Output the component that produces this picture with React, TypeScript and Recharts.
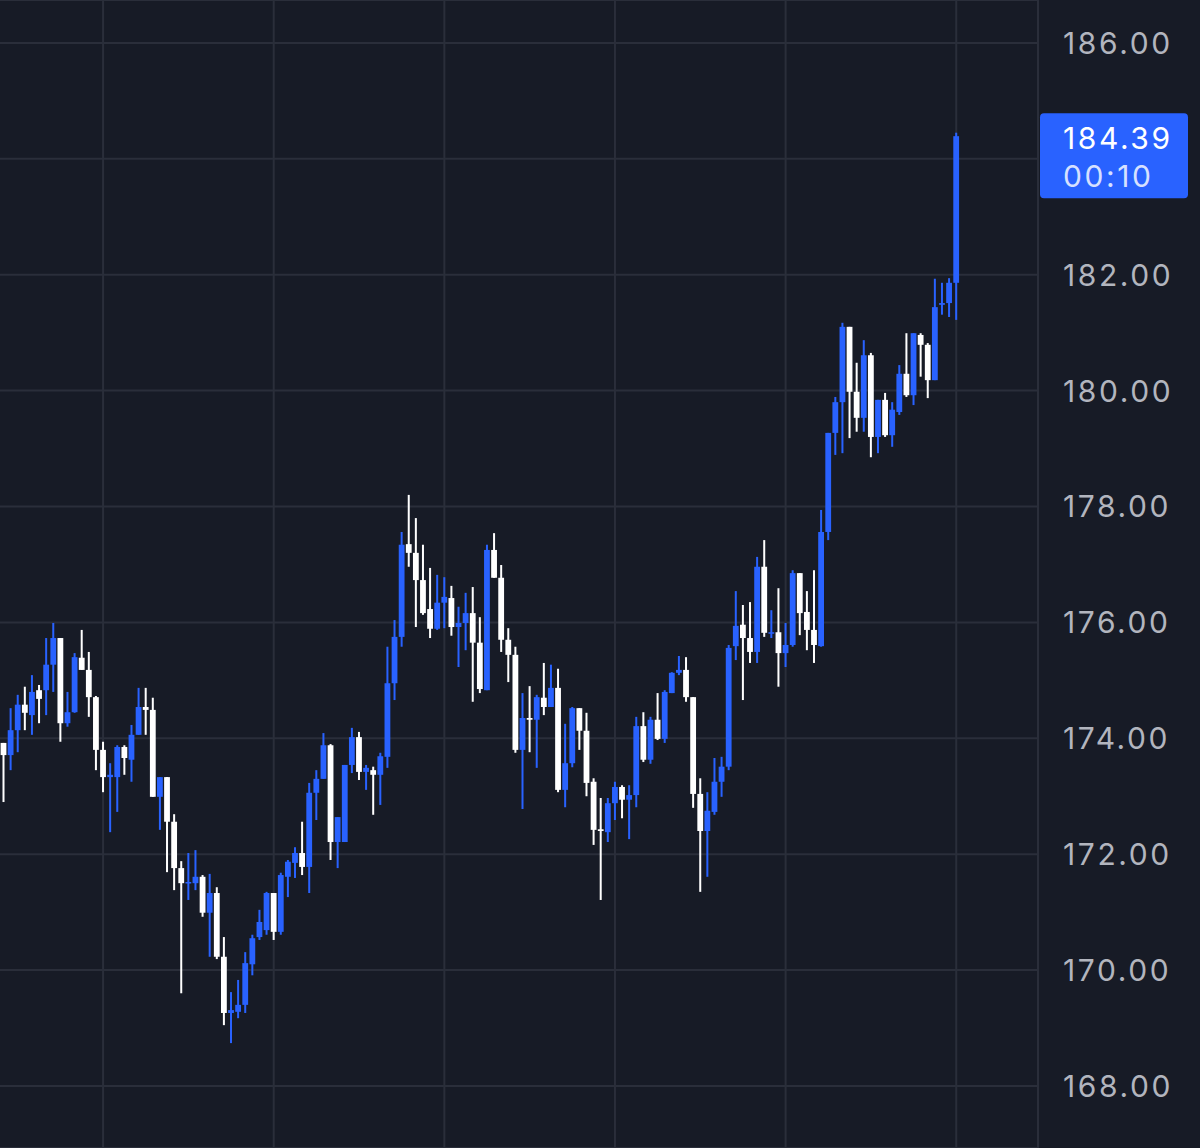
import React from "react";
import { ComposedChart, Bar, XAxis, YAxis, CartesianGrid, ReferenceLine } from "recharts";

const UP = "#2962ff";
const DOWN = "#ffffff";
const BG = "#171b26";
const GRID = "#2a2e3a";

const open = [
  173.92, 173.71, 174.14, 174.58, 174.40, 174.83, 174.83, 175.27, 175.73, 174.26,
  174.45, 175.39, 175.18, 174.71, 173.80, 173.33, 173.33, 173.85, 173.63, 174.06,
  174.54, 174.49, 172.99, 173.33, 172.56, 171.76, 171.50, 171.50, 171.61, 170.99,
  171.33, 170.23, 169.26, 169.28, 169.40, 170.10, 170.57, 170.69, 171.33, 170.66,
  171.61, 171.85, 172.02, 171.78, 173.06, 173.30, 173.88, 172.21, 172.21, 173.54,
  174.02, 173.42, 173.45, 173.37, 173.68, 174.95, 175.75, 177.35, 177.20, 176.73,
  176.23, 175.89, 176.34, 176.42, 175.92, 175.99, 176.16, 175.65, 174.83, 177.25,
  176.77, 175.70, 175.44, 173.80, 174.35, 174.32, 174.70, 174.54, 174.87, 173.11,
  173.57, 174.52, 174.13, 173.25, 172.43, 172.38, 172.88, 173.16, 172.94, 173.02,
  174.21, 173.63, 174.32, 173.99, 174.78, 175.13, 175.18, 174.71, 173.04, 172.40,
  172.73, 173.25, 173.51, 175.59, 175.96, 175.73, 175.49, 176.96, 175.82, 175.83,
  175.47, 175.61, 176.85, 176.18, 175.87, 175.59, 177.56, 179.27, 179.80, 181.10,
  179.98, 179.53, 180.61, 179.20, 179.84, 179.23, 179.63, 180.29, 179.92, 180.96,
  180.79, 180.18, 181.48, 181.51, 181.86,
];

const high = [
  173.92, 174.52, 174.75, 174.89, 175.09, 174.92, 175.73, 175.99, 175.73, 174.80,
  175.47, 175.87, 175.49, 174.73, 173.94, 173.57, 173.88, 173.88, 174.23, 174.87,
  174.87, 174.70, 173.33, 173.33, 172.69, 171.88, 172.02, 172.07, 171.64, 171.66,
  171.43, 170.57, 169.62, 169.83, 170.31, 170.61, 171.04, 171.35, 171.33, 171.68,
  171.90, 172.12, 172.56, 173.23, 173.45, 174.09, 173.90, 172.64, 173.54, 174.18,
  174.11, 173.54, 173.51, 173.75, 175.58, 176.04, 177.56, 178.20, 177.80, 177.34,
  176.94, 176.82, 176.78, 176.63, 176.27, 176.51, 176.61, 176.09, 177.34, 177.54,
  176.99, 175.90, 175.58, 174.78, 174.90, 174.75, 175.30, 175.27, 175.20, 174.25,
  174.54, 174.52, 174.44, 173.31, 172.97, 172.97, 173.25, 173.19, 173.19, 174.37,
  174.45, 174.37, 174.78, 174.83, 175.14, 175.42, 175.40, 174.71, 173.31, 173.07,
  173.66, 173.68, 175.61, 176.54, 176.30, 176.35, 177.13, 177.42, 176.21, 176.59,
  175.99, 176.90, 176.85, 176.54, 176.90, 177.94, 179.27, 179.89, 181.17, 181.10,
  180.48, 180.87, 180.65, 179.84, 179.96, 179.80, 180.44, 180.99, 180.99, 180.99,
  180.82, 181.93, 181.86, 181.94, 184.45,
];

const low = [
  172.90, 173.45, 173.76, 174.14, 174.06, 174.26, 174.40, 174.80, 173.94, 174.20,
  174.44, 175.18, 174.37, 173.45, 173.07, 172.38, 172.73, 173.37, 173.25, 174.06,
  174.06, 172.99, 172.42, 171.69, 171.38, 169.60, 171.21, 171.38, 170.92, 170.23,
  170.19, 169.05, 168.74, 169.17, 169.26, 169.91, 170.52, 170.61, 170.52, 170.61,
  171.26, 171.59, 171.64, 171.33, 172.59, 173.30, 171.90, 171.76, 172.21, 173.40,
  173.28, 173.11, 172.68, 172.85, 173.49, 174.66, 175.58, 176.96, 175.92, 176.13,
  175.73, 175.87, 175.90, 175.77, 175.23, 175.52, 174.63, 174.78, 174.83, 176.77,
  175.49, 174.97, 173.75, 172.78, 173.76, 173.49, 174.40, 174.54, 173.07, 172.81,
  173.50, 173.80, 173.00, 172.16, 171.21, 172.21, 172.59, 172.62, 172.26, 172.81,
  173.59, 173.56, 173.97, 173.92, 174.78, 175.09, 174.63, 172.80, 171.35, 171.61,
  172.68, 172.99, 173.45, 175.35, 174.66, 175.30, 175.30, 175.75, 175.73, 174.89,
  175.23, 175.58, 175.78, 175.52, 175.30, 175.58, 177.42, 178.89, 178.92, 179.18,
  179.29, 179.29, 178.85, 178.92, 179.20, 179.03, 179.58, 179.89, 179.75, 180.24,
  179.87, 180.18, 181.31, 181.27, 181.22,
];

const close = [
  173.71, 174.14, 174.58, 174.44, 174.80, 174.68, 175.27, 175.73, 174.26, 174.45,
  175.40, 175.18, 174.71, 173.80, 173.33, 173.37, 173.85, 173.66, 174.06, 174.54,
  174.49, 172.99, 173.33, 172.56, 171.76, 171.50, 171.52, 171.61, 170.99, 171.33,
  170.23, 169.26, 169.31, 169.40, 170.12, 170.55, 170.83, 171.33, 170.66, 171.64,
  171.87, 172.02, 171.78, 173.06, 173.30, 173.88, 172.21, 172.64, 173.54, 174.02,
  173.42, 173.49, 173.37, 173.69, 174.95, 175.75, 177.34, 177.20, 176.73, 176.16,
  175.89, 176.34, 176.44, 175.92, 175.99, 176.16, 175.65, 174.85, 177.25, 176.77,
  175.70, 175.44, 173.80, 174.35, 174.32, 174.71, 174.54, 174.87, 173.11, 173.57,
  174.52, 174.13, 173.23, 172.42, 172.40, 172.88, 173.16, 172.94, 173.02, 174.21,
  173.63, 174.32, 173.99, 174.80, 175.13, 175.18, 174.71, 173.04, 172.40, 172.75,
  173.25, 173.51, 175.56, 175.94, 175.73, 175.49, 176.96, 175.82, 175.83, 175.47,
  175.61, 176.85, 176.16, 175.87, 175.61, 177.56, 179.27, 179.80, 181.10, 179.98,
  179.53, 180.61, 179.20, 179.84, 179.23, 179.67, 180.29, 179.92, 180.99, 180.79,
  180.18, 181.44, 181.51, 181.86, 184.39,
];

const priceTicks = [168, 170, 172, 174, 176, 178, 180, 182, 184, 186];
// every 24th bar carries a time gridline
const timeLines = [14, 38, 62, 86, 110, 134];
const lastPrice = 184.39;
const countdown = "00:10";
const emptySlots = 11;

const data = Array.from({ length: open.length + emptySlots }, (_, i) =>
  i < open.length
    ? { i, range: [low[i], high[i]], o: open[i], h: high[i], l: low[i], c: close[i] }
    : { i, range: null }
);

const labelFont = { fontSize: 30, fontFamily: "Inter", letterSpacing: 2.6 };

function Candle(props: any) {
  const { x, y, width, height, payload } = props;
  if (!payload || payload.o == null) return null;
  const top = Math.min(y, y + height);
  const span = Math.abs(height);
  const { o, c, h, l } = payload;
  const toY = (v: number) => top + (h === l ? 0 : ((h - v) / (h - l)) * span);
  const color = c >= o ? UP : DOWN;
  const mid = x + width / 2;
  const bTop = toY(Math.max(o, c));
  const bBot = toY(Math.min(o, c));
  return (
    <g>
      <rect x={mid - 1} y={top} width={2} height={Math.max(span, 1)} fill={color} />
      <rect x={x + 0.6} y={bTop} width={width - 1.2} height={Math.max(bBot - bTop, 1.5)} fill={color} />
    </g>
  );
}

// the last-price tag sits over the axis and hides the tick under it
function PriceTick(props: any) {
  const { x, y, payload } = props;
  if (Math.abs(payload.value - lastPrice) < 1.2) return null;
  return (
    <text x={x} y={y} fill="#b2b5be" {...labelFont} dominantBaseline="central">
      {Number(payload.value).toFixed(2)}
    </text>
  );
}

function PriceTag(props: any) {
  const { viewBox } = props;
  if (!viewBox) return null;
  const left = viewBox.x + viewBox.width + 2;
  const y = viewBox.y;
  return (
    <g>
      <rect x={left} y={y - 23} width={148} height={85} rx={4} fill={UP} />
      <text x={left + 23} y={y + 2} fill="#ffffff" {...labelFont} dominantBaseline="central">
        {lastPrice.toFixed(2)}
      </text>
      <text x={left + 23} y={y + 40} fill="#d6e0ff" {...labelFont} dominantBaseline="central">
        {countdown}
      </text>
    </g>
  );
}

// vertical time lines drawn by the grid so they stay behind the candles
function timeGrid(args: any) {
  const scale = args?.xAxis?.scale;
  if (typeof scale === "function") {
    const band = typeof scale.bandwidth === "function" ? scale.bandwidth() : 0;
    const pts = timeLines.map((t) => scale(t) + band / 2);
    if (pts.every((p) => Number.isFinite(p))) return pts;
  }
  const off = args?.offset ?? { left: 0, width: args?.width ?? 1038 };
  const band = off.width / data.length;
  return timeLines.map((t) => off.left + (t + 0.5) * band);
}

export default function App() {
  return (
    <div style={{ position: "absolute", left: 0, top: 0, width: 1200, height: 1148, background: BG }}>
      <ComposedChart width={1200} height={1148} data={data} margin={{ top: 0, right: 0, bottom: 0, left: 0 }} barCategoryGap={0} barGap={0}>
        <CartesianGrid stroke={GRID} strokeWidth={2} verticalCoordinatesGenerator={timeGrid} />
        <XAxis dataKey="i" type="category" hide />
        <YAxis
          orientation="right"
          type="number"
          width={162}
          domain={[166.93, 186.74]}
          allowDataOverflow
          ticks={priceTicks}
          tick={<PriceTick />}
          tickLine={false}
          tickSize={0}
          tickMargin={25}
          axisLine={{ stroke: GRID, strokeWidth: 2 }}
        />
        <Bar dataKey="range" shape={<Candle />} isAnimationActive={false} />
        <ReferenceLine y={lastPrice} stroke="none" label={<PriceTag />} />
      </ComposedChart>
    </div>
  );
}
